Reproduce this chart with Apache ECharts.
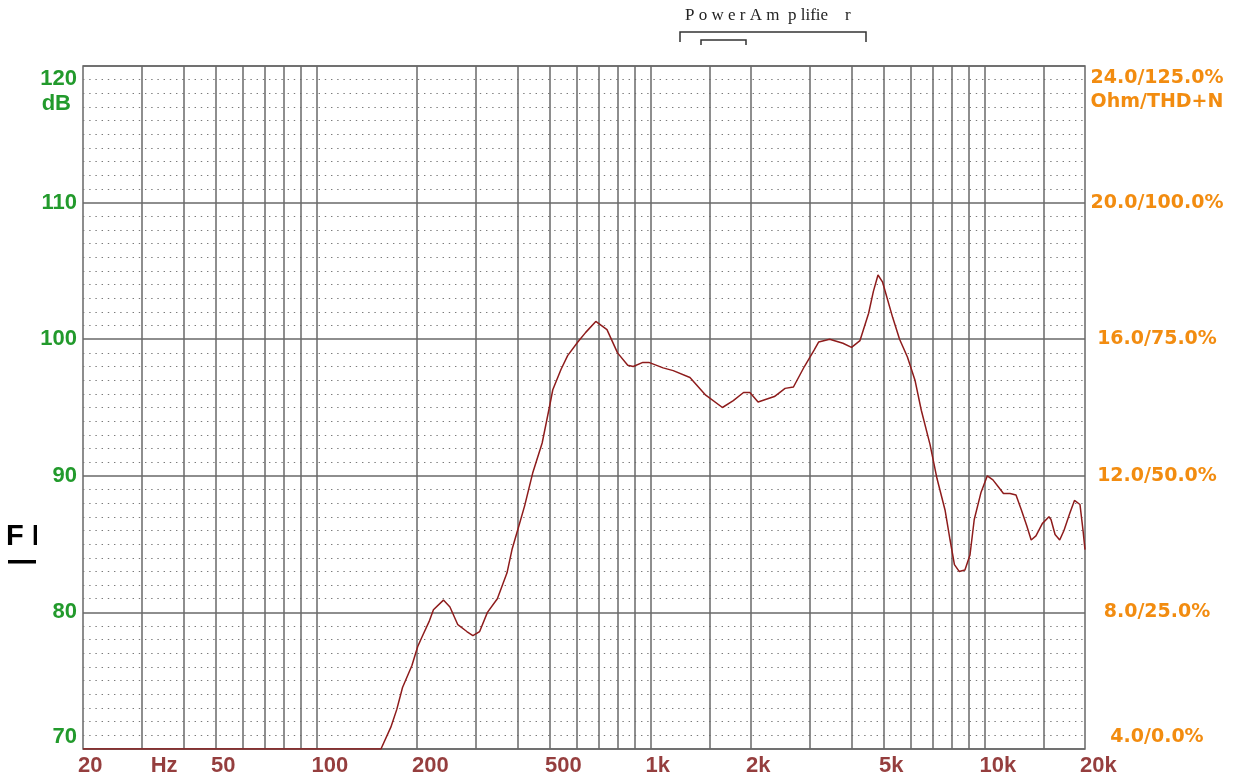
<!DOCTYPE html>
<html>
<head>
<meta charset="utf-8">
<script src="https://cdn.jsdelivr.net/npm/echarts@6/dist/echarts.min.js"></script>
<style>html,body{margin:0;padding:0;background:#fff}#c{width:1240px;height:782px}</style>
</head>
<body>
<div id="c"></div>
<script>
// ---- data ----
const freqHz = [20,150,156,158,167,174,181,193,201,207,218,224,240,251,265,282,294,308,325,348,372,385,400,420,444,474,498,510,540,565,606,640,686,741,797,855,888,949,989,1091,1170,1313,1464,1643,1770,1900,1985,2100,2350,2530,2680,2890,3090,3190,3440,3770,4000,4240,4500,4650,4800,4950,5310,5570,5880,6194,6470,6870,7210,7620,7890,8130,8400,8740,9050,9320,9770,10200,10600,11000,11400,11930,12430,12900,13400,13800,14260,14900,15600,15820,16270,16800,17300,18030,18600,19320,19730,20000];
const splDb  = [70,70,70,70.1,71.6,72.9,74.5,76.1,77.5,78.2,79.4,80.2,80.9,80.4,79.1,78.6,78.3,78.6,80.0,81.0,82.9,84.6,86.0,87.8,90.2,92.4,95.0,96.3,97.8,98.8,99.8,100.5,101.3,100.7,99.0,98.1,98.0,98.3,98.3,97.9,97.7,97.2,95.9,95.0,95.5,96.1,96.1,95.4,95.8,96.4,96.5,98.0,99.2,99.8,100.0,99.7,99.4,99.9,101.9,103.5,104.7,104.2,101.6,100.0,98.7,97.0,94.8,92.3,89.8,87.5,85.3,83.5,83.0,83.1,84.2,86.8,88.8,90.0,89.7,89.2,88.7,88.7,88.6,87.5,86.3,85.3,85.6,86.5,87.0,86.8,85.7,85.3,86.0,87.3,88.2,87.9,86.0,84.6];
const gridFreqs = [30,40,50,60,70,80,90,100,200,300,400,500,600,700,800,900,1000,1500,2000,3000,4000,5000,6000,7000,8000,9000,10000,15000];
const xTickFreqs  = [20,33,50,100,200,500,1000,2000,5000,10000,20000];
const xTickLabels = ['20','Hz','50','100','200','500','1k','2k','5k','10k','20k'];
const dbTicks      = [70,80,90,100,110,120];
const dbTickLabels = ['70','80','90','100','110','120'];
const dbUnit = 'dB';
const rightTicks      = [4,8,12,16,20,24];
const rightTickLabels = ['4.0/0.0%','8.0/25.0%','12.0/50.0%','16.0/75.0%','20.0/100.0%','24.0/125.0%\nOhm/THD+N'];
const titleText = 'P o w e r A m  p lifie    r';
const sideTitle = 'F R';

const chart = echarts.init(document.getElementById('c'), null, {renderer:'canvas'});
const GRID = '#686868';
const LFONT = "'Liberation Sans',Arial,sans-serif";
const option = {
  animation:false,
  backgroundColor:'#ffffff',
  grid:{left:83,right:155,top:66,bottom:33,show:true,borderColor:GRID,borderWidth:1.5,backgroundColor:'transparent'},
  xAxis:{type:'log',logBase:10,min:20,max:20000,axisLine:{show:false},axisTick:{show:false},axisLabel:{show:false},splitLine:{show:false}},
  yAxis:[{
    type:'value',min:70,max:120,interval:10,position:'left',
    axisLine:{show:false},axisTick:{show:false},
    axisLabel:{color:'#229a2c',fontWeight:'bold',fontSize:22,lineHeight:25,fontFamily:LFONT,margin:6,
      verticalAlignMinLabel:'bottom',verticalAlignMaxLabel:'top',
      rich:{u:{color:'#229a2c',fontWeight:'bold',fontSize:22,lineHeight:25,fontFamily:LFONT,padding:[0,6,0,0]}},
      formatter:v=>{const i=dbTicks.indexOf(Math.round(v));if(i<0)return '';return i===dbTicks.length-1?dbTickLabels[i]+'\n{u|'+dbUnit+'}':dbTickLabels[i];}},
    splitLine:{show:true,lineStyle:{color:GRID,width:1.5}},
    minorTick:{show:false,splitNumber:10},
    minorSplitLine:{show:true,lineStyle:{color:'#7a7a7a',width:1,type:[1.4,4.8]}}
  },{
    type:'value',min:4,max:24,interval:4,position:'right',
    axisLine:{show:false},axisTick:{show:false},splitLine:{show:false},
    axisLabel:{color:'#f28c10',fontWeight:'bold',fontSize:19,lineHeight:24,fontFamily:"'DejaVu Sans',Verdana,sans-serif",margin:72,align:'center',
      verticalAlignMinLabel:'bottom',verticalAlignMaxLabel:'top',
      formatter:v=>{const i=rightTicks.indexOf(Math.round(v));return i>=0?rightTickLabels[i]:'';}}
  }],
  series:[{
    type:'line',data:[[20,70]],symbol:'none',silent:true,z:1,lineStyle:{opacity:0},
    markLine:{silent:true,symbol:'none',animation:false,label:{show:false},
      lineStyle:{color:GRID,width:1.5,type:'solid'},
      data:gridFreqs.map(f=>({xAxis:f}))}
  },{
    type:'line',z:5,symbol:'none',smooth:false,
    data:freqHz.map((f,i)=>[f,splDb[i]]),
    lineStyle:{color:'#8e1c1c',width:1.5}
  },{
    type:'scatter',z:6,symbolSize:0,silent:true,
    data:xTickFreqs.map((f,i)=>({value:[f,70],name:xTickLabels[i]})),
    label:{show:true,position:'bottom',distance:6,align:'left',offset:[-5,0],formatter:p=>p.name,
      color:'#7a0e0e',fontWeight:'bold',fontSize:22,fontFamily:LFONT}
  }],
  graphic:[
    {type:'text',left:685,top:7,style:{text:titleText,fill:'#222',fontSize:17,fontFamily:"'Liberation Serif','DejaVu Serif',serif"}},
    {type:'polyline',shape:{points:[[680,42],[680,32],[866,32],[866,42]]},style:{stroke:'#333',lineWidth:1.5,fill:null}},
    {type:'polyline',shape:{points:[[701,45],[701,40],[746,40],[746,45]]},style:{stroke:'#333',lineWidth:1.5,fill:null}},
    {type:'text',left:6,top:522,style:{text:sideTitle,fill:'#000',fontSize:29,fontWeight:'bold',fontFamily:LFONT}},
    {type:'rect',shape:{x:37,y:515,width:44,height:50},style:{fill:'#fff'}},
    {type:'rect',shape:{x:8,y:560,width:28,height:3.5},style:{fill:'#000'}}
  ]
};
chart.setOption(option);
</script>
</body>
</html>
